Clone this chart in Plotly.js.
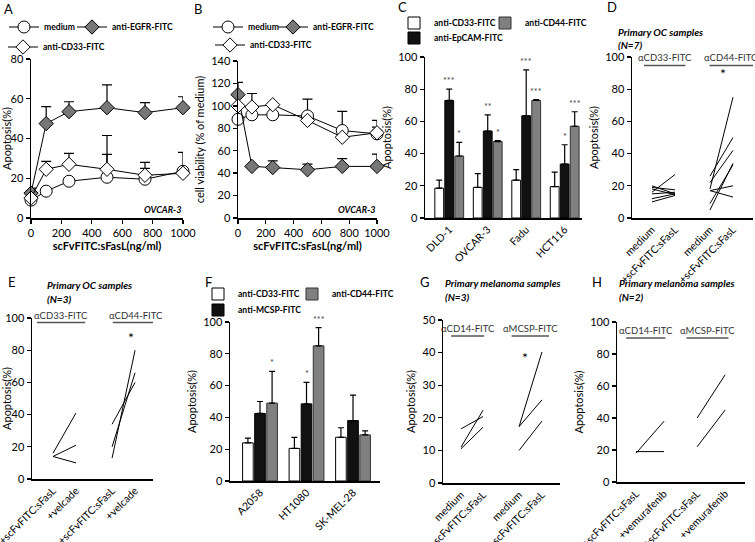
<!DOCTYPE html>
<html><head><meta charset="utf-8">
<script src="https://cdn.plot.ly/plotly-3.0.1.min.js"></script>
<style>html,body{margin:0;padding:0;background:#fff}#chart{width:755px;height:542px}</style>
</head><body><div id="chart"></div>
<script>
// ---------- DATA ----------
const doseX = [0, 100, 250, 500, 750, 1000];
// Panel A (apoptosis, OVCAR-3)
const A_medium = [9, 13.5, 18.5, 20.5, 19.5, 23.5];
const A_medium_err = [1, 0, 0, 11.5, 5.5, 9.5];
const A_egfr = [12.5, 47.5, 53.5, 55.5, 53, 55.5];
const A_egfr_err = [2.5, 8.5, 5, 11.5, 5, 5.5];
const A_cd33 = [10, 24.5, 27, 24.5, 21.5, 22.5];
const A_cd33_err = [0, 4, 5.5, 17, 6.5, 0];
// Panel B (cell viability, OVCAR-3)
const B_medium = [88, 92, 92, 91, 78, 75];
const B_medium_err = [0, 0, 0, 15, 17, 12];
const B_egfr = [110, 46, 45, 43, 46, 46];
const B_egfr_err = [11, 0, 6, 5, 7, 11];
const B_cd33 = [100, 99, 101, 87, 72, 76];
const B_cd33_err = [0, 12, 0, 0, 0, 5];
// Panel C (cell lines)
const C_lines = ["DLD-1", "OVCAR-3", "Fadu", "HCT116"];
const C_cd33 = [18.5, 19, 23.5, 19.5];
const C_cd33_err = [5, 8.5, 6.5, 9];
const C_epcam = [73, 54, 63.5, 33.5];
const C_epcam_err = [7, 10, 28.5, 12];
const C_cd44 = [38.5, 47.5, 73, 57];
const C_cd44_err = [8.5, 0.5, 0.5, 9];
const C_epcam_sig = ["***", "**", "***", "*"];
const C_cd44_sig = ["*", "*", "***", "***"];
// Panel D (primary OC, N=7)
const D_ticks = ["medium", "+scFvFITC:sFasL", "medium", "+scFvFITC:sFasL"];
const D_cd33_medium = [20, 19, 18, 16, 15, 12, 10];
const D_cd33_treated = [15, 17.5, 14.5, 27, 16, 15, 14];
const D_cd44_medium = [18, 26, 22, 5, 9, 17, 17];
const D_cd44_treated = [75, 50, 42, 34, 33, 20, 13];
// Panel E (primary OC, N=3)
const E_ticks = ["+scFvFITC:sFasL", "+velcade", "+scFvFITC:sFasL", "+velcade"];
const E_cd33_base = [16, 14, 14];
const E_cd33_velcade = [41, 21, 10];
const E_cd44_base = [34, 20, 13];
const E_cd44_velcade = [60, 66, 80];
// Panel F (melanoma lines)
const F_lines = ["A2058", "HT1080", "SK-MEL-28"];
const F_cd33 = [24, 20.5, 27.5];
const F_cd33_err = [3, 7, 6];
const F_mcsp = [42.5, 48.5, 38];
const F_mcsp_err = [7.5, 13.5, 16];
const F_cd44 = [49, 85, 29];
const F_cd44_err = [20, 11.5, 2.5];
const F_mcsp_sig = ["", "*", ""];
const F_cd44_sig = ["*", "***", ""];
// Panel G (primary melanoma, N=3)
const G_ticks = ["medium", "+scFvFITC:sFasL", "medium", "+scFvFITC:sFasL"];
const G_cd14_medium = [16.6, 11, 10.5];
const G_cd14_treated = [20.4, 22.3, 17.1];
const G_mcsp_medium = [17.3, 17.3, 10];
const G_mcsp_treated = [40.2, 25.5, 19];
// Panel H (primary melanoma, N=2)
const H_ticks = ["+scFvFITC:sFasL", "+vemurafenib", "+scFvFITC:sFasL", "+vemurafenib"];
const H_cd14_base = [18, 19];
const H_cd14_vem = [38, 19];
const H_mcsp_base = [40, 22];
const H_mcsp_vem = [67, 45];

// ---------- HELPERS ----------
const W = 755, Hh = 542;
const px = v => v / W, py = v => 1 - v / Hh;
const FONT = "Lato, 'Open Sans', sans-serif";
const traces = [];
const annotations = [];
const shapes = [];
const layout = {
  width: W, height: Hh, margin: {l: 0, r: 0, t: 0, b: 0},
  paper_bgcolor: "#fff", plot_bgcolor: "rgba(0,0,0,0)",
  font: {family: FONT, color: "#000", size: 11},
  showlegend: true, barmode: "group", bargap: 0.22, bargroupgap: 0.12,
  annotations, shapes
};

function axes(n, xd, yd, xopt, yopt) {
  const base = {showgrid: false, zeroline: false, showline: true, linecolor: "#000", linewidth: 1.5,
    ticks: "outside", ticklen: 4, tickwidth: 1.3, tickcolor: "#000",
    tickfont: {family: FONT, size: 11, color: "#000"}, fixedrange: true};
  const sx = n === 1 ? "" : n;
  layout["xaxis" + sx] = Object.assign({}, base, {domain: [px(xd[0]), px(xd[1])], anchor: "y" + sx, ticklabeloverflow: "allow"}, xopt);
  layout["yaxis" + sx] = Object.assign({}, base, {domain: [py(yd[1]), py(yd[0])], anchor: "x" + sx}, yopt);
}
function legendAt(name, xpx, ypx) {
  layout[name] = {x: px(xpx), y: py(ypx), xanchor: "left", yanchor: "middle", bgcolor: "rgba(0,0,0,0)",
    borderwidth: 0, font: {family: FONT, size: 8.6, color: "#000", weight: "bold"}, itemwidth: 30, tracegroupgap: 0};
}
function letter(t, x, y) {
  annotations.push({text: t, xref: "paper", yref: "paper", x: px(x), y: py(y), xanchor: "left", yanchor: "middle",
    showarrow: false, font: {family: FONT, size: 13, color: "#000"}});
}
function note(t, x, y, opt) {
  annotations.push(Object.assign({text: t, xref: "paper", yref: "paper", x: px(x), y: py(y), xanchor: "left", yanchor: "middle",
    showarrow: false, font: {family: FONT, size: 10, color: "#000", weight: "bold", style: "italic"}}, opt || {}));
}
function dose(ax, name, y, err, sym, fill, leg) {
  traces.push({type: "scatter", mode: "lines+markers", x: doseX, y: y, name: name, xaxis: "x" + ax, yaxis: "y" + ax,
    line: {color: "#000", width: 1},
    marker: {symbol: sym, size: sym === "circle" ? 12 : 11, color: fill, line: {color: "#000", width: 1}},
    error_y: {type: "data", symmetric: false, array: err, arrayminus: err.map(() => 0), color: "#000", thickness: 1.2, width: 5},
    cliponaxis: false, legend: leg});
}
function bars(ax, cats, y, err, name, fill, lineColor, leg) {
  traces.push({type: "bar", x: cats, y: y, name: name, xaxis: "x" + ax, yaxis: "y" + ax,
    marker: {color: fill, line: {color: lineColor, width: 1}},
    error_y: {type: "data", symmetric: false, array: err, arrayminus: err.map(() => 0), color: "#000", thickness: 1.2, width: 3},
    legend: leg});
}
function stars(ax, y, err, sig, k) {
  const slot = (1 - layout.bargap) / 3;
  sig.forEach((s, i) => {
    if (!s) return;
    annotations.push({text: s, xref: "x" + ax, yref: "y" + ax, x: i + (k - 1) * slot, y: y[i] + err[i],
      yanchor: "bottom", yshift: 1, showarrow: false, font: {family: FONT, size: 9, color: "#444"}});
  });
}
function pairs(ax, pos, a, b, g) {
  a.forEach((v, i) => {
    traces.push({type: "scatter", mode: "lines", x: [pos[g], pos[g + 1]], y: [v, b[i]], xaxis: "x" + ax, yaxis: "y" + ax,
      line: {color: "#000", width: 1}, showlegend: false, hoverinfo: "skip", cliponaxis: false});
  });
}
// group label: text centred at cx (axis units), text/underline at pixel rows ty / ly
function groupLabel(ax, text, cx, half, ty, ly) {
  annotations.push({text: text, xref: "x" + ax, yref: "paper", x: cx, y: py(ty), yanchor: "middle", showarrow: false,
    font: {family: FONT, size: 9.5, color: "#333"}});
  shapes.push({type: "line", xref: "x" + ax, yref: "paper", x0: cx - half, x1: cx + half, y0: py(ly), y1: py(ly),
    line: {color: "#555", width: 1.5}});
}
function star(ax, cx, ypx) {
  annotations.push({text: "*", xref: "x" + ax, yref: "paper", x: cx, y: py(ypx), yanchor: "middle", showarrow: false,
    font: {family: FONT, size: 14, color: "#000"}});
}

// ---------- PANEL A ----------
axes(1, [31, 183], [59, 218],
  {range: [0, 1000], tickvals: [0, 200, 400, 600, 800, 1000], title: {text: "scFvFITC:sFasL(ng/ml)", font: {size: 11, weight: "bold"}, standoff: 2}},
  {range: [0, 80], dtick: 20, title: {text: "Apoptosis(%)", font: {size: 11}, standoff: 4}});
dose(1, "medium", A_medium, A_medium_err, "circle", "#fff", "legend");
dose(1, "anti-EGFR-FITC", A_egfr, A_egfr_err, "diamond", "#777", "legend2");
dose(1, "anti-CD33-FITC", A_cd33, A_cd33_err, "diamond", "#fff", "legend3");
legendAt("legend", 4, 27); legendAt("legend2", 72, 27); legendAt("legend3", 3, 47);
letter("A", 2, 9);
note("OVCAR-3", 183, 209, {xanchor: "right", font: {family: FONT, size: 9, weight: "bold", style: "italic"}});

// ---------- PANEL B ----------
axes(2, [238, 377], [61, 218],
  {range: [0, 1000], tickvals: [0, 200, 400, 600, 800, 1000], title: {text: "scFvFITC:sFasL(ng/ml)", font: {size: 11, weight: "bold"}, standoff: 2}},
  {range: [0, 140], dtick: 20, title: {text: "cell viability (% of medium)", font: {size: 11}, standoff: 4}});
dose(2, "medium", B_medium, B_medium_err, "circle", "#fff", "legend4");
dose(2, "anti-EGFR-FITC", B_egfr, B_egfr_err, "diamond", "#777", "legend5");
dose(2, "anti-CD33-FITC", B_cd33, B_cd33_err, "diamond", "#fff", "legend6");
legendAt("legend4", 208, 27); legendAt("legend5", 273, 27); legendAt("legend6", 210, 45);
letter("B", 192, 9);
note("OVCAR-3", 377, 209, {xanchor: "right", font: {family: FONT, size: 9, weight: "bold", style: "italic"}});

// ---------- PANEL C ----------
axes(3, [425, 582], [57, 218],
  {type: "category", range: [-0.63, 3.45], ticks: "", tickangle: -45, tickfont: {family: FONT, size: 10.5, color: "#000"}},
  {range: [0, 100], dtick: 20, title: {text: "Apoptosis(%)", font: {size: 11}, standoff: 4}});
bars(3, C_lines, C_cd33, C_cd33_err, "anti-CD33-FITC", "#fff", "#000", "legend7");
bars(3, C_lines, C_epcam, C_epcam_err, "anti-EpCAM-FITC", "#111", "#000", "legend9");
bars(3, C_lines, C_cd44, C_cd44_err, "anti-CD44-FITC", "#808080", "#333", "legend8");
stars(3, C_epcam, C_epcam_err, C_epcam_sig, 1);
stars(3, C_cd44, C_cd44_err, C_cd44_sig, 2);
legendAt("legend7", 394, 23); legendAt("legend8", 485, 23); legendAt("legend9", 394, 38);
letter("C", 396, 7);

// ---------- PANEL D ----------
const posD = [1, 2, 3.52, 4.52];
axes(4, [632, 753], [57, 218],
  {range: [0.13, 5.39], tickvals: posD, ticktext: D_ticks, ticks: "", tickangle: -45, tickfont: {family: FONT, size: 10.5, color: "#000"}},
  {range: [0, 100], dtick: 20, title: {text: "Apoptosis(%)", font: {size: 11}, standoff: 4}});
pairs(4, posD, D_cd33_medium, D_cd33_treated, 0);
pairs(4, posD, D_cd44_medium, D_cd44_treated, 2);
groupLabel(4, "αCD33-FITC", 1.55, 0.9, 57, 65.5);
groupLabel(4, "αCD44-FITC", 4.45, 0.95, 57, 65.5);
star(4, 4.1, 73);
letter("D", 605, 7);
note("Primary OC samples", 616, 32); note("(N=7)", 616, 45);

// ---------- PANEL E ----------
const posE = [1, 2, 3.57, 4.57];
axes(5, [32, 153], [318, 479],
  {range: [0.087, 5.35], tickvals: posE, ticktext: E_ticks, ticks: "", tickangle: -45, tickfont: {family: FONT, size: 10.5, color: "#000"}},
  {range: [0, 100], dtick: 20, title: {text: "Apoptosis(%)", font: {size: 11}, standoff: 4}});
pairs(5, posE, E_cd33_base, E_cd33_velcade, 0);
pairs(5, posE, E_cd44_base, E_cd44_velcade, 2);
groupLabel(5, "αCD33-FITC", 1.35, 1.05, 315, 322.5);
groupLabel(5, "αCD44-FITC", 4.6, 1.0, 315, 322.5);
star(5, 4.4, 337);
letter("E", 6, 282);
note("Primary OC samples", 45, 285); note("(N=3)", 45, 299);

// ---------- PANEL F ----------
axes(6, [230, 380], [322, 481],
  {type: "category", range: [-0.645, 2.58], ticks: "", tickangle: -45, tickfont: {family: FONT, size: 10.5, color: "#000"}},
  {range: [0, 100], dtick: 20, title: {text: "Apoptosis(%)", font: {size: 11}, standoff: 4}});
bars(6, F_lines, F_cd33, F_cd33_err, "anti-CD33-FITC", "#fff", "#000", "legend10");
bars(6, F_lines, F_mcsp, F_mcsp_err, "anti-MCSP-FITC", "#111", "#000", "legend12");
bars(6, F_lines, F_cd44, F_cd44_err, "anti-CD44-FITC", "#808080", "#333", "legend11");
stars(6, F_mcsp, F_mcsp_err, F_mcsp_sig, 1);
stars(6, F_cd44, F_cd44_err, F_cd44_sig, 2);
legendAt("legend10", 198, 294); legendAt("legend11", 292, 294); legendAt("legend12", 198, 310);
letter("F", 203, 282);

// ---------- PANEL G ----------
const posG = [1, 2, 3.64, 4.68];
axes(7, [443, 560], [320, 483],
  {range: [0.18, 5.5], tickvals: posG, ticktext: G_ticks, ticks: "", tickangle: -45, tickfont: {family: FONT, size: 10.5, color: "#000"}},
  {range: [0, 50], dtick: 10, title: {text: "Apoptosis(%)", font: {size: 11}, standoff: 4}});
pairs(7, posG, G_cd14_medium, G_cd14_treated, 0);
pairs(7, posG, G_mcsp_medium, G_mcsp_treated, 2);
groupLabel(7, "αCD14-FITC", 1.3, 0.75, 328, 336);
groupLabel(7, "αMCSP-FITC", 4.15, 0.85, 328, 336);
star(7, 3.9, 357);
letter("G", 418, 282);
note("Primary melanoma samples", 443, 283); note("(N=3)", 443, 297);

// ---------- PANEL H ----------
const posH = [1, 2, 3.18, 4.18];
axes(8, [617, 745], [322, 482],
  {range: [0.32, 4.89], tickvals: posH, ticktext: H_ticks, ticks: "", tickangle: -45, tickfont: {family: FONT, size: 10.5, color: "#000"}},
  {range: [0, 100], dtick: 20, title: {text: "Apoptosis(%)", font: {size: 11}, standoff: 4}});
pairs(8, posH, H_cd14_base, H_cd14_vem, 0);
pairs(8, posH, H_mcsp_base, H_mcsp_vem, 2);
groupLabel(8, "αCD14-FITC", 1.35, 0.7, 330, 338);
groupLabel(8, "αMCSP-FITC", 3.55, 0.75, 330, 338);
letter("H", 590, 282);
note("Primary melanoma samples", 617, 283); note("(N=2)", 617, 297);

Plotly.newPlot("chart", traces, layout, {displayModeBar: false, staticPlot: true});
</script></body></html>
